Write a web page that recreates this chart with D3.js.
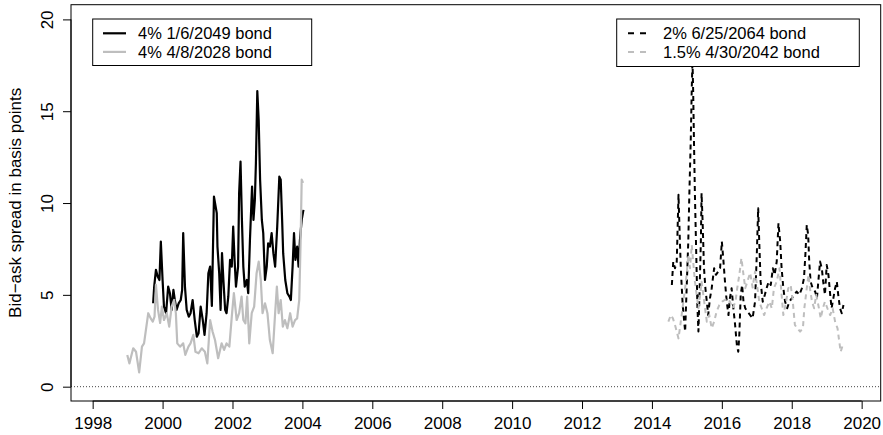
<!DOCTYPE html>
<html>
<head>
<meta charset="utf-8">
<script src="https://cdn.jsdelivr.net/npm/d3@7"></script>
<style>
  html, body { margin: 0; padding: 0; background: #fff; }
  svg { display: block; }
  text { font-family: "Liberation Sans", Arial, Helvetica, sans-serif; fill: #000; }
</style>
</head>
<body>
<svg id="chart" width="883" height="435"></svg>
<script>
// ---------------- DATA (decimal year, bid-ask spread in bp) ----------------
const bond2049 = [[1999.73,4.54],[1999.76,5.45],[1999.81,6.36],[1999.86,6.0],[1999.91,5.81],[1999.95,7.9],[2000.00,5.81],[2000.04,4.36],[2000.10,4.0],[2000.16,5.45],[2000.21,5.09],[2000.26,4.18],[2000.31,5.27],[2000.35,4.72],[2000.40,4.18],[2000.46,4.54],[2000.52,4.72],[2000.56,5.27],[2000.59,8.36],[2000.64,5.45],[2000.69,4.18],[2000.75,3.81],[2000.80,4.0],[2000.86,4.72],[2000.92,3.63],[2000.98,2.72],[2001.03,2.91],[2001.09,4.36],[2001.15,3.63],[2001.20,2.82],[2001.26,4.0],[2001.31,6.18],[2001.36,6.54],[2001.41,4.4],[2001.47,10.35],[2001.55,9.45],[2001.57,7.63],[2001.62,6.18],[2001.66,4.18],[2001.70,7.27],[2001.74,5.81],[2001.79,4.18],[2001.83,4.0],[2001.88,4.9],[2001.93,6.9],[2001.98,6.54],[2002.02,8.72],[2002.06,6.9],[2002.10,5.45],[2002.16,6.54],[2002.19,10.54],[2002.23,12.26],[2002.27,9.08],[2002.31,6.54],[2002.35,5.45],[2002.41,5.81],[2002.45,5.09],[2002.50,8.0],[2002.56,10.9],[2002.60,9.08],[2002.64,10.17],[2002.67,12.17],[2002.71,16.1],[2002.75,14.5],[2002.79,11.27],[2002.84,9.08],[2002.88,8.36],[2002.93,5.81],[2002.98,6.54],[2003.02,7.81],[2003.07,7.63],[2003.12,8.36],[2003.17,7.27],[2003.22,6.54],[2003.28,8.72],[2003.34,11.44],[2003.38,11.27],[2003.42,9.08],[2003.45,7.27],[2003.51,5.81],[2003.57,5.09],[2003.63,4.9],[2003.67,4.72],[2003.72,6.54],[2003.76,8.36],[2003.80,6.9],[2003.85,7.63],[2003.89,6.54],[2003.93,8.0],[2003.98,9.08],[2004.03,9.63]];

const bond2028 = [[1998.99,1.73],[1999.05,1.27],[1999.16,2.09],[1999.24,1.9],[1999.33,0.78],[1999.41,2.18],[1999.47,2.36],[1999.59,4.0],[1999.66,3.72],[1999.72,3.54],[1999.77,3.81],[1999.81,5.55],[1999.87,4.18],[1999.93,3.47],[1999.98,4.36],[2000.04,3.63],[2000.12,4.0],[2000.19,3.27],[2000.26,4.36],[2000.33,4.72],[2000.38,4.0],[2000.42,2.36],[2000.50,2.18],[2000.59,2.36],[2000.65,1.73],[2000.74,2.18],[2000.80,2.36],[2000.88,2.82],[2000.94,1.9],[2001.03,1.82],[2001.12,2.09],[2001.21,1.9],[2001.28,1.27],[2001.36,3.63],[2001.43,3.0],[2001.50,2.54],[2001.59,1.55],[2001.69,2.36],[2001.76,2.0],[2001.83,2.36],[2001.91,2.18],[2001.98,3.81],[2002.04,5.09],[2002.12,3.63],[2002.19,4.0],[2002.26,4.9],[2002.31,3.63],[2002.37,3.45],[2002.42,4.9],[2002.48,2.36],[2002.55,4.0],[2002.62,4.36],[2002.69,6.18],[2002.75,6.81],[2002.81,5.81],[2002.86,4.0],[2002.93,4.54],[2003.00,4.0],[2003.07,2.54],[2003.15,1.82],[2003.22,4.0],[2003.27,5.45],[2003.32,4.0],[2003.38,4.72],[2003.44,3.27],[2003.50,3.63],[2003.57,3.18],[2003.65,4.0],[2003.72,3.27],[2003.79,3.63],[2003.85,3.72],[2003.91,4.72],[2003.95,8.0],[2003.98,11.27],[2004.02,11.1]];

const bond2064 = [[2014.57,5.54],[2014.61,6.81],[2014.66,6.45],[2014.71,6.81],[2014.76,10.45],[2014.80,7.9],[2014.83,6.27],[2014.88,4.45],[2014.95,3.0],[2015.00,5.72],[2015.04,7.9],[2015.07,10.45],[2015.11,13.35],[2015.14,16.26],[2015.16,17.8],[2015.18,16.08],[2015.20,13.7],[2015.23,10.45],[2015.26,7.9],[2015.30,4.45],[2015.33,3.0],[2015.36,5.0],[2015.40,7.9],[2015.42,10.54],[2015.45,9.0],[2015.49,6.45],[2015.53,5.36],[2015.57,4.63],[2015.61,3.9],[2015.66,4.81],[2015.71,5.36],[2015.78,6.45],[2015.83,6.09],[2015.90,6.27],[2015.95,6.45],[2016.00,7.9],[2016.04,7.0],[2016.09,5.72],[2016.14,4.63],[2016.19,3.9],[2016.23,4.81],[2016.28,5.36],[2016.33,4.27],[2016.38,3.36],[2016.43,2.27],[2016.47,1.9],[2016.50,2.82],[2016.54,5.0],[2016.58,5.54],[2016.62,4.63],[2016.67,4.27],[2016.73,4.09],[2016.81,3.9],[2016.88,3.72],[2016.95,4.63],[2017.00,7.18],[2017.04,9.72],[2017.07,7.9],[2017.11,5.72],[2017.17,4.63],[2017.23,5.0],[2017.28,5.36],[2017.34,5.72],[2017.40,5.54],[2017.46,6.45],[2017.51,6.09],[2017.57,6.81],[2017.62,8.9],[2017.67,7.9],[2017.71,6.45],[2017.76,5.36],[2017.81,4.63],[2017.87,4.27],[2017.93,4.63],[2018.00,4.81],[2018.07,5.0],[2018.14,5.18],[2018.22,5.0],[2018.29,5.36],[2018.35,5.9],[2018.39,7.18],[2018.43,8.81],[2018.47,8.27],[2018.50,6.81],[2018.54,5.72],[2018.60,5.36],[2018.67,5.18],[2018.72,4.81],[2018.76,5.72],[2018.81,6.81],[2018.86,6.45],[2018.90,5.72],[2018.95,5.0],[2019.00,6.63],[2019.05,6.09],[2019.10,5.0],[2019.14,4.27],[2019.19,4.81],[2019.24,5.36],[2019.29,5.72],[2019.33,5.0],[2019.38,4.27],[2019.43,4.0],[2019.48,4.45]];

const bond2042 = [[2014.47,3.54],[2014.54,3.9],[2014.60,3.72],[2014.66,3.36],[2014.71,3.0],[2014.76,2.63],[2014.80,3.18],[2014.85,3.9],[2014.90,4.63],[2014.95,5.36],[2015.00,6.27],[2015.04,7.18],[2015.09,6.45],[2015.14,7.72],[2015.18,6.81],[2015.23,5.72],[2015.28,5.0],[2015.33,4.27],[2015.38,5.0],[2015.42,5.72],[2015.47,5.0],[2015.52,4.27],[2015.57,3.54],[2015.64,3.9],[2015.71,3.18],[2015.78,3.54],[2015.85,4.09],[2015.93,4.45],[2016.01,4.63],[2016.08,4.72],[2016.16,4.81],[2016.23,4.63],[2016.31,4.27],[2016.39,4.63],[2016.44,5.36],[2016.50,6.09],[2016.56,7.0],[2016.62,6.09],[2016.67,5.36],[2016.73,5.72],[2016.81,6.2],[2016.88,5.4],[2016.95,6.27],[2017.02,5.36],[2017.07,4.63],[2017.14,4.27],[2017.21,3.9],[2017.28,4.27],[2017.36,4.63],[2017.43,4.27],[2017.49,5.36],[2017.57,5.72],[2017.65,6.45],[2017.71,5.0],[2017.76,3.9],[2017.84,4.63],[2017.90,5.36],[2017.97,5.54],[2018.03,4.63],[2018.09,3.36],[2018.16,3.18],[2018.24,3.0],[2018.32,3.18],[2018.36,4.27],[2018.43,5.36],[2018.48,6.09],[2018.52,5.36],[2018.58,4.63],[2018.64,4.27],[2018.70,5.0],[2018.76,4.45],[2018.83,3.72],[2018.89,4.27],[2018.95,4.63],[2019.02,4.27],[2019.10,3.9],[2019.17,4.27],[2019.24,3.54],[2019.31,3.18],[2019.36,2.45],[2019.40,1.9],[2019.46,2.27]];

const xTicks = [1998, 2000, 2002, 2004, 2006, 2008, 2010, 2012, 2014, 2016, 2018, 2020];
const yTicks = [0, 5, 10, 15, 20];
const legendLeftLabels = ["4% 1/6/2049 bond", "4% 4/8/2028 bond"];
const legendRightLabels = ["2% 6/25/2064 bond", "1.5% 4/30/2042 bond"];
const yTitle = "Bid\u2212ask spread in basis points";

// ---------------- LAYOUT ----------------
const L = 71, R = 880.7, T = 4.7, B = 401;
const GRAY = "#bebebe";
const FS = 17;
const LFS = 16.5;

const svg = d3.select("#chart");
const x = d3.scaleLinear().domain([1997.38, 2020.545]).range([L, R]);
const y = d3.scaleLinear().domain([-0.78, 20.8]).range([B, T]);

svg.append("defs").append("clipPath").attr("id", "clip")
  .append("rect").attr("x", L).attr("y", T).attr("width", R - L).attr("height", B - T);

// zero reference line (dotted)
svg.append("line")
  .attr("x1", L).attr("x2", R).attr("y1", y(0)).attr("y2", y(0))
  .attr("stroke", "#444").attr("stroke-width", 1).attr("stroke-dasharray", "1,2");

const line = d3.line().x(d => x(d[0])).y(d => y(d[1]));
const series = [
  { data: bond2049, color: "#000", dash: null, w: 2.2 },
  { data: bond2028, color: GRAY, dash: null, w: 2.2 },
  { data: bond2064, color: "#000", dash: "5,4", w: 2 },
  { data: bond2042, color: GRAY, dash: "5,4", w: 2 }
];
const g = svg.append("g").attr("clip-path", "url(#clip)");
series.forEach(s => {
  g.append("path").datum(s.data)
    .attr("d", line)
    .attr("fill", "none")
    .attr("stroke", s.color)
    .attr("stroke-width", s.w)
    .attr("stroke-linejoin", "round")
    .attr("stroke-dasharray", s.dash);
});

// box
svg.append("rect").attr("x", L).attr("y", T).attr("width", R - L).attr("height", B - T)
  .attr("fill", "none").attr("stroke", "#000").attr("stroke-width", 1);

// x axis
const xAxis = d3.axisBottom(x).tickValues(xTicks).tickFormat(d3.format("d")).tickSize(8).tickPadding(0);
const xg = svg.append("g").attr("transform", `translate(0,${B})`).call(xAxis);
xg.select(".domain").attr("d", `M${x(xTicks[0])},0H${x(xTicks[xTicks.length - 1])}`).attr("stroke", "#000");
xg.selectAll(".tick line").attr("stroke", "#000");
xg.selectAll(".tick text").attr("font-size", FS).attr("font-family", "Liberation Sans, Arial, sans-serif")
  .attr("fill", "#000").attr("dy", null).attr("y", 28);

// y axis
const yAxis = d3.axisLeft(y).tickValues(yTicks).tickFormat(d3.format("d")).tickSize(8);
const yg = svg.append("g").attr("transform", `translate(${L},0)`).call(yAxis);
yg.select(".domain").attr("d", `M0,${y(yTicks[0])}V${y(yTicks[yTicks.length - 1])}`).attr("stroke", "#000");
yg.selectAll(".tick line").attr("stroke", "#000");
yg.selectAll(".tick text")
  .attr("font-size", FS).attr("font-family", "Liberation Sans, Arial, sans-serif").attr("fill", "#000")
  .attr("x", null).attr("dy", null)
  .attr("text-anchor", "middle")
  .attr("transform", "translate(-18,0) rotate(-90)");

// y title
svg.append("text")
  .attr("transform", `translate(21,${(T + B) / 2}) rotate(-90)`)
  .attr("text-anchor", "middle").attr("font-size", FS)
  .text(yTitle);

// legends
function legend(x0, x1, y0, y1, labels, items, lx0, lx1, tx) {
  const lg = svg.append("g");
  lg.append("rect").attr("x", x0).attr("y", y0).attr("width", x1 - x0).attr("height", y1 - y0)
    .attr("fill", "#fff").attr("stroke", "#000").attr("stroke-width", 1);
  labels.forEach((lab, i) => {
    const cy = 33.3 + i * 18.6;
    lg.append("line").attr("x1", lx0).attr("x2", lx1).attr("y1", cy).attr("y2", cy)
      .attr("stroke", items[i].color).attr("stroke-width", items[i].w).attr("stroke-dasharray", items[i].dash);
    lg.append("text").attr("x", tx).attr("y", cy).attr("dy", "0.35em")
      .attr("font-size", LFS).text(lab);
  });
}
legend(92.7, 311.7, 19, 65.5, legendLeftLabels, [series[0], series[1]], 103, 126, 138);
legend(616.7, 859.3, 19, 66.5, legendRightLabels,
  [{ color: "#000", dash: "6,6", w: 2 }, { color: GRAY, dash: "6,6", w: 2 }], 628, 650, 663);
</script>
</body>
</html>
